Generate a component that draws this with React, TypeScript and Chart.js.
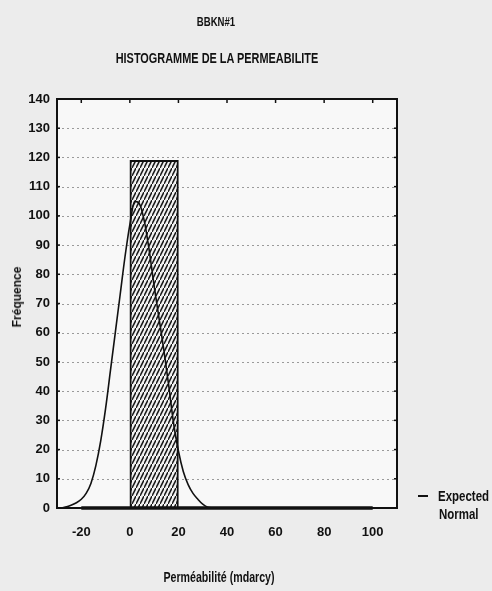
import React, { useEffect, useRef } from "react";
import { Chart, registerables } from "chart.js";

Chart.register(...registerables);

// Histogram bins (mdarcy) and their frequencies
const binEdges = [-20, 0, 20, 40, 60, 80, 100];
const binCounts = [0, 119, 0, 0, 0, 0];

// Expected normal curve
const normalX = [-28, -26, -24, -22, -20, -18, -16, -14, -12, -10, -8, -6, -4, -2, 0, 2, 4, 6, 8, 10, 12, 14, 16, 18, 20, 22, 24, 26, 28, 30, 32, 34];
const normalY = [0, 0.4, 1, 1.8, 3, 5, 8.5, 14.5, 23, 34, 47, 60, 73, 86, 97, 105, 104, 98, 88, 76, 65, 54, 42, 29, 19.5, 12.5, 8, 5, 3, 1.3, 0.3, 0];

const xTicks = [-20, 0, 20, 40, 60, 80, 100];
const yTicks = [0, 10, 20, 30, 40, 50, 60, 70, 80, 90, 100, 110, 120, 130, 140];

const chartTitle = "BBKN#1";
const chartSubtitle = "HISTOGRAMME DE LA PERMEABILITE";
const xTitle = "Perméabilité (mdarcy)";
const yTitle = "Fréquence";
const legendLine1 = "Expected";
const legendLine2 = "Normal";

const SANS = "'Liberation Sans', Arial, sans-serif";

function makeHatch(): CanvasPattern | string {
  const c = document.createElement("canvas");
  c.width = 4;
  c.height = 8;
  const g = c.getContext("2d");
  if (!g) return "#666";
  g.fillStyle = "#f2f2f2";
  g.fillRect(0, 0, 4, 8);
  g.strokeStyle = "#1a1a1a";
  g.lineWidth = 1.5;
  g.beginPath();
  g.moveTo(-1, 10);
  g.lineTo(5, -2);
  g.stroke();
  const p = g.createPattern(c, "repeat");
  return p || "#666";
}

const framePlugin = {
  id: "frame",
  beforeDraw(chart: any) {
    const { ctx, chartArea } = chart;
    ctx.save();
    ctx.fillStyle = "#f8f8f8";
    ctx.fillRect(chartArea.left, chartArea.top, chartArea.right - chartArea.left, chartArea.bottom - chartArea.top);
    ctx.restore();
  },
  beforeDatasetsDraw(chart: any) {
    const { ctx, chartArea } = chart;
    const y = chart.scales.y;
    ctx.save();
    ctx.strokeStyle = "#9a9a9a";
    ctx.lineWidth = 1;
    ctx.setLineDash([2, 3]);
    for (const v of yTicks) {
      if (v === yTicks[0] || v === yTicks[yTicks.length - 1]) continue;
      const py = Math.round(y.getPixelForValue(v)) + 0.5;
      ctx.beginPath();
      ctx.moveTo(chartArea.left, py);
      ctx.lineTo(chartArea.right, py);
      ctx.stroke();
    }
    ctx.restore();
  },
  afterDatasetsDraw(chart: any) {
    const { ctx, chartArea } = chart;
    const x = chart.scales.x;
    const y = chart.scales.y;
    ctx.save();
    ctx.strokeStyle = "#111";
    ctx.lineWidth = 2;
    ctx.strokeRect(chartArea.left, chartArea.top, chartArea.right - chartArea.left, chartArea.bottom - chartArea.top);
    ctx.lineWidth = 1.5;
    for (const v of xTicks) {
      const px = x.getPixelForValue(v);
      ctx.beginPath();
      ctx.moveTo(px, chartArea.top);
      ctx.lineTo(px, chartArea.top + 4);
      ctx.stroke();
    }
    for (const v of yTicks) {
      const py = y.getPixelForValue(v);
      ctx.beginPath();
      ctx.moveTo(chartArea.right, py);
      ctx.lineTo(chartArea.right - 3, py);
      ctx.stroke();
      ctx.beginPath();
      ctx.moveTo(chartArea.left, py);
      ctx.lineTo(chartArea.left + 3, py);
      ctx.stroke();
    }
    ctx.restore();
  },
};

export default function App() {
  const ref = useRef<HTMLCanvasElement | null>(null);

  useEffect(() => {
    if (!ref.current) return;
    const hatch = makeHatch();
    const barData = binCounts.map((c, i) => ({ x: (binEdges[i] + binEdges[i + 1]) / 2, y: c }));
    const baseData = [
      { x: binEdges[0], y: 0 },
      { x: binEdges[binEdges.length - 1], y: 0 },
    ];
    const normalData = normalX.map((xv, i) => ({ x: xv, y: normalY[i] }));
    const tickFont = { family: SANS, size: 13, weight: "bold" as const };

    const chart = new Chart(ref.current, {
      type: "bar",
      data: {
        datasets: [
          {
            type: "line" as const,
            label: "Expected Normal",
            data: normalData,
            borderColor: "#111",
            borderWidth: 1.6,
            pointRadius: 0,
            cubicInterpolationMode: "monotone" as const,
            fill: false,
            order: 0,
          },
          {
            type: "line" as const,
            label: "base",
            data: baseData,
            borderColor: "#111",
            borderWidth: 3.5,
            pointRadius: 0,
            fill: false,
            clip: false,
            order: 1,
          },
          {
            type: "bar" as const,
            label: "Fréquence",
            data: barData,
            backgroundColor: hatch as any,
            borderColor: "#111",
            borderWidth: 2,
            barPercentage: 1,
            categoryPercentage: 1,
            order: 2,
          },
        ],
      },
      options: {
        responsive: false,
        animation: false,
        devicePixelRatio: 1,
        layout: { padding: { left: 0, top: 99, right: 95, bottom: 0 } },
        plugins: {
          legend: { display: false },
          tooltip: { enabled: false },
          title: { display: false },
        },
        scales: {
          x: {
            type: "linear",
            offset: false,
            min: -30,
            max: 110,
            afterBuildTicks: (s: any) => {
              s.ticks = xTicks.map((v) => ({ value: v }));
            },
            afterFit: (s: any) => {
              s.height = 83;
            },
            grid: { display: false, drawTicks: false, offset: false },
            border: { display: false },
            ticks: {
              autoSkip: false,
              maxRotation: 0,
              padding: 17,
              color: "#111",
              font: tickFont,
            },
          },
          y: {
            type: "linear",
            min: 0,
            max: 140,
            afterBuildTicks: (s: any) => {
              s.ticks = yTicks.map((v) => ({ value: v }));
            },
            afterFit: (s: any) => {
              s.width = 57;
            },
            grid: { display: false, drawTicks: false },
            border: { display: false },
            ticks: {
              padding: 7,
              color: "#111",
              font: tickFont,
            },
          },
        },
      },
      plugins: [framePlugin],
    } as any);
    return () => chart.destroy();
  }, []);

  const txt = (extra: React.CSSProperties): React.CSSProperties => ({
    position: "absolute",
    color: "#111",
    whiteSpace: "nowrap",
    lineHeight: 1,
    fontFamily: SANS,
    fontWeight: "bold",
    ...extra,
  });

  return (
    <div style={{ position: "absolute", left: 0, top: 0, width: 492, height: 591, background: "#ececec", overflow: "hidden" }}>
      <canvas ref={ref} width={492} height={591} style={{ display: "block", position: "absolute", left: 0, top: 0 }} />
      <div style={txt({ left: 216, top: 22, transform: "translate(-50%, -50%) scaleX(0.8)", fontSize: 12 })}>{chartTitle}</div>
      <div style={txt({ left: 217, top: 58, transform: "translate(-50%, -50%) scaleX(0.78)", fontSize: 14 })}>{chartSubtitle}</div>
      <div style={txt({ left: 219, top: 577, transform: "translate(-50%, -50%) scaleX(0.76)", fontSize: 14 })}>{xTitle}</div>
      <div style={txt({ left: 17, top: 297, transform: "translate(-50%, -50%) rotate(-90deg)", fontSize: 12 })}>{yTitle}</div>
      <div style={txt({ left: 418, top: 495, width: 10, height: 2, background: "#111" })} />
      <div style={txt({ left: 438, top: 496, transform: "translateY(-50%) scaleX(0.82)", transformOrigin: "left center", fontSize: 14 })}>{legendLine1}</div>
      <div style={txt({ left: 439, top: 514, transform: "translateY(-50%) scaleX(0.82)", transformOrigin: "left center", fontSize: 14 })}>{legendLine2}</div>
    </div>
  );
}
